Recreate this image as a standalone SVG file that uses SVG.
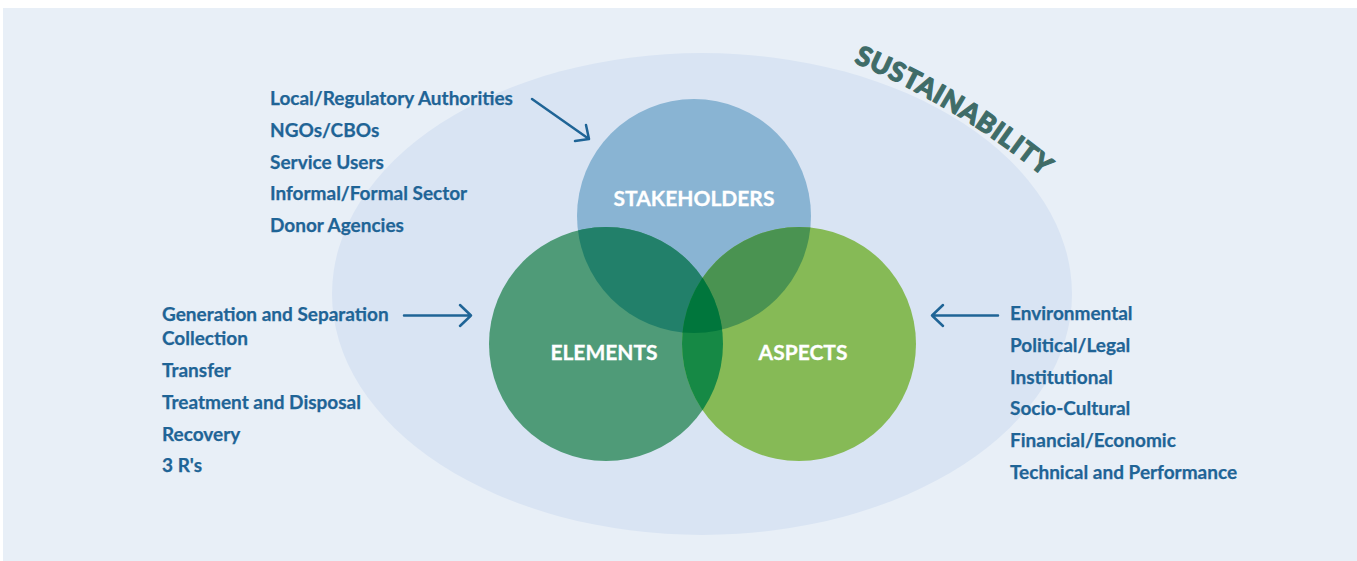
<svg xmlns="http://www.w3.org/2000/svg" width="1357" height="561" viewBox="0 0 1357 561">
<defs>
<style>
.item{font-family:Lato,"Open Sans","Liberation Sans",sans-serif;font-weight:700;font-size:19px;fill:#1f6496;stroke:#1f6496;stroke-width:0.25}
.lbl{font-family:Lato,"Open Sans","Liberation Sans",sans-serif;font-weight:700;font-size:21px;fill:#ffffff;text-anchor:middle;stroke:#ffffff;stroke-width:0.3}
.sus{font-family:Lato,"Open Sans","Liberation Sans",sans-serif;font-weight:900;font-size:27px;fill:#3f6c68;stroke:#3f6c68;stroke-width:1.1;stroke-linejoin:round}
.conn{stroke:#1f6496;stroke-width:2.5;fill:none;stroke-linecap:round;stroke-linejoin:round}
</style>
<clipPath id="cS"><circle cx="694" cy="216" r="117"/></clipPath>
<clipPath id="cE"><circle cx="606" cy="344" r="117"/></clipPath>
<path id="arc" d="M818,48.6 A772,772 0 0 1 1099.9,228.1"/>
</defs>
<rect x="3" y="8" width="1354" height="553" fill="#e8eff7"/>
<ellipse cx="702" cy="294" rx="370" ry="241" fill="#d9e4f3"/>
<text class="sus"><textPath href="#arc" startOffset="38" textLength="222" lengthAdjust="spacing">SUSTAINABILITY</textPath></text>
<g id="stakeholders"><circle cx="694" cy="216" r="117" fill="#89b4d3"/></g>
<g id="elements"><circle cx="606" cy="344" r="117" fill="#4f9b78"/></g>
<g id="aspects"><circle cx="799" cy="344" r="117" fill="#86ba56"/></g>
<g id="overlaps">
<circle cx="606" cy="344" r="117" fill="#22806a" clip-path="url(#cS)"/>
<circle cx="799" cy="344" r="117" fill="#4a9351" clip-path="url(#cS)"/>
<circle cx="799" cy="344" r="117" fill="#168945" clip-path="url(#cE)"/>
<g clip-path="url(#cS)"><circle cx="799" cy="344" r="117" fill="#00763c" clip-path="url(#cE)"/></g>
</g>
<g id="labels">
<text class="lbl" x="694" y="206">STAKEHOLDERS</text>
<text class="lbl" x="604" y="360">ELEMENTS</text>
<text class="lbl" x="803" y="360">ASPECTS</text>
</g>
<g id="stakeholder-list">
<text class="item" x="270" y="105">Local/Regulatory Authorities</text>
<text class="item" x="270" y="137">NGOs/CBOs</text>
<text class="item" x="270" y="169">Service Users</text>
<text class="item" x="270" y="200">Informal/Formal Sector</text>
<text class="item" x="270" y="232">Donor Agencies</text>
</g>
<g id="element-list">
<text class="item" x="162" y="321">Generation and Separation</text>
<text class="item" x="162" y="345">Collection</text>
<text class="item" x="162" y="377">Transfer</text>
<text class="item" x="162" y="409">Treatment and Disposal</text>
<text class="item" x="162" y="441">Recovery</text>
<text class="item" x="162" y="472">3 R's</text>
</g>
<g id="aspect-list">
<text class="item" x="1010" y="320">Environmental</text>
<text class="item" x="1010" y="352">Political/Legal</text>
<text class="item" x="1010" y="384">Institutional</text>
<text class="item" x="1010" y="415">Socio-Cultural</text>
<text class="item" x="1010" y="447">Financial/Economic</text>
<text class="item" x="1010" y="479">Technical and Performance</text>
</g>
<g id="connectors">
<path class="conn" d="M532,99 L589,139 M586,125 L589,139 L575,141"/>
<path class="conn" d="M404,315.5 L471,315.5 M460,305 L471,315.5 L460,326"/>
<path class="conn" d="M998,315.5 L932,315.5 M943,305 L932,315.5 L943,326"/>
</g>
</svg>
